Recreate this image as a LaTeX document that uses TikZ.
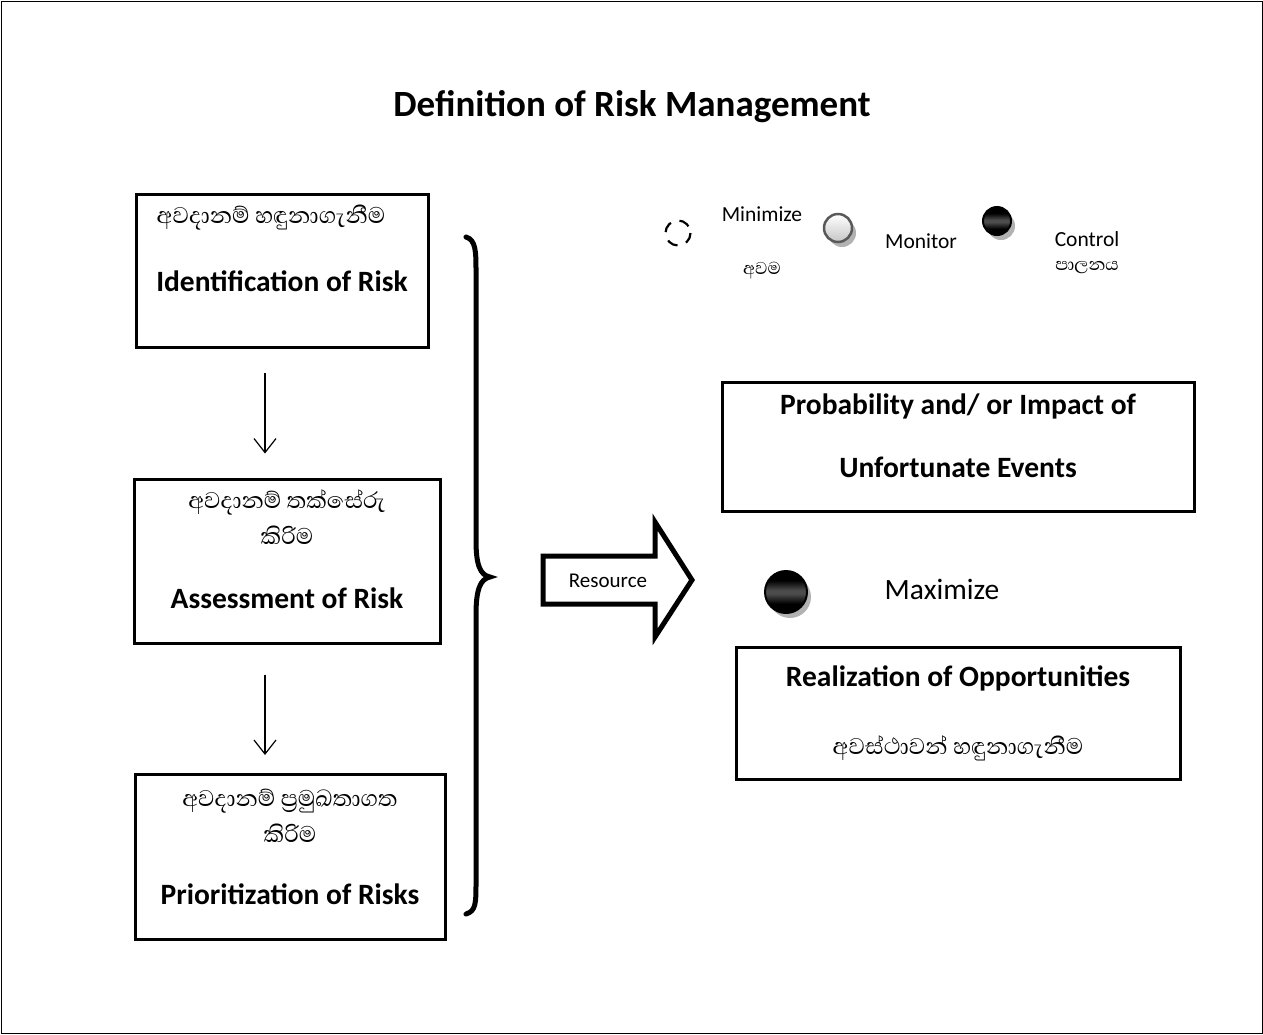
\documentclass[tikz,border=0pt]{standalone}
\usepackage{fontspec}
\setmainfont{Carlito}
\newfontfamily\sinhalafont[Script=Sinhala]{Abhaya Libre}
\usetikzlibrary{arrows.meta, positioning, shadows}

\pgfdeclareverticalshading{glossblack}{100bp}{color(0bp)=(black); color(36bp)=(black);
  color(48bp)=(black!70); color(52bp)=(black!70); color(64bp)=(black);
  color(100bp)=(black)}

\tikzset{
  riskbox/.style = {draw, line width = 3pt, inner sep = 0pt},
  en/.style = {font = \fontsize{29.5}{34}\selectfont\bfseries},
  si/.style = {font = \fontsize{29}{34}\selectfont\sinhalafont},
  lbl/.style = {font = \fontsize{21.5}{25}\selectfont},
  lblsi/.style = {font = \fontsize{22}{26}\selectfont\sinhalafont},
  ballshadow/.style = {drop shadow = {shadow xshift = 4pt, shadow yshift = -5pt,
      fill = gray!60, opacity = 1}},
  greyball/.style = {circle, minimum size = #1, draw = gray!70!black,
      line width = 2.5pt, top color = white, bottom color = gray!45, ballshadow},
  blackball/.style = {circle, minimum size = #1, draw = black, line width = 2pt,
      shading = glossblack, ballshadow},
  flow/.style = {-{Straight Barb[length = 14pt, width = 22pt]}, line width = 1.2pt}
}

\begin{document}
\begin{tikzpicture}[x = 1pt, y = -1pt]
    \useasboundingbox (0,0) rectangle (1263,1034);
    \draw [line width = 1pt] (1,1) rectangle (1262,1033);
    \node [font = \fontsize{37}{44}\selectfont\bfseries] (title) at (632,107)
      {Definition of Risk Management};

    \node [riskbox, minimum width = 292, minimum height = 153] (idf) at (282,271) {};
    \node [si] (idfsi) at (271,218) {අවදානම් හඳුනාගැනීම};
    \node [en] (idfen) at (282,281) {Identification of Risk};

    \node [riskbox, minimum width = 306, minimum height = 164] (asm) at (287,561) {};
    \node [si] (asmsi1) at (287,502) {අවදානම් තක්සේරු};
    \node [si] (asmsi2) at (287,535) {කිරිම};
    \node [en] (asmen) at (287,598) {Assessment of Risk};

    \node [riskbox, minimum width = 310, minimum height = 165] (pri) at (290,857) {};
    \node [si] (prisi1) at (290,801) {අවදානම් ප්^^^^200dරමුඛතාගත};
    \node [si] (prisi2) at (290,833) {කිරිම};
    \node [en] (prien) at (290,894) {Prioritization of Risks};

    \draw [flow, shorten <= 24pt, shorten >= 24pt]
      ([xshift = -17pt] idf.south) -- ([xshift = -22pt] asm.north);
    \draw [flow, shorten <= 30pt, shorten >= 18pt]
      ([xshift = -22pt] asm.south) -- ([xshift = -25pt] pri.north);

    \draw [line width = 5pt, line cap = round]
      (466,237) .. controls (476,240) and (476,252) .. (476,272) -- (476,540)
      .. controls (476,565) and (480,575) .. (490,577)
      .. controls (480,579) and (476,590) .. (476,615) -- (476,882)
      .. controls (476,903) and (476,911) .. (466,914);

    \draw [line width = 5pt, line join = miter]
      (543,556) -- (655,556) -- (655,522) -- (692,580) -- (655,637)
      -- (655,604) -- (543,604) -- cycle;
    \node [font = \fontsize{21}{25}\selectfont] (res) at (608,581) {Resource};

    \draw [line width = 2.2pt, dash pattern = on 11pt off 9pt] (678,233) circle (12.5);
    \node [lbl] (min) at (762,214) {Minimize};
    \node [lblsi] (minsi) at (762,271) {අවම};
    \node [greyball = 28pt] (mon) at (838,228) {};
    \node [lbl] (monen) at (921,241) {Monitor};
    \node [blackball = 28pt] (con) at (997,221) {};
    \node [lbl] (conen) at (1087,239) {Control};
    \node [lblsi] (consi) at (1087,268) {පාලනය};

    \node [riskbox, minimum width = 472, minimum height = 129] (prob) at (958,447) {};
    \node [en] (prob1) at (958,406) {Probability and/ or Impact of};
    \node [en] (prob2) at (958,467) {Unfortunate Events};

    \node [blackball = 42pt] (max) at (786,592) {};
    \node [font = \fontsize{29.5}{34}\selectfont] (maxen) at (942,589) {Maximize};

    \node [riskbox, minimum width = 444, minimum height = 132] (opp) at (958,713) {};
    \node [en] (oppen) at (958,678) {Realization of Opportunities};
    \node [si] (oppsi) at (958,748) {අවස්ථාවන් හඳුනාගැනීම};
  \end{tikzpicture}
\end{document}
